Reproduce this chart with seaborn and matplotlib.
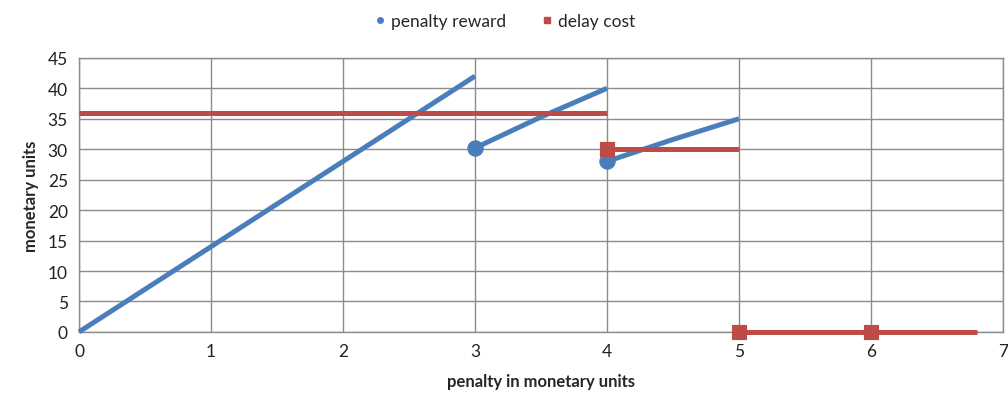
import matplotlib
matplotlib.use("Agg")
import matplotlib.pyplot as plt
import pandas as pd
import seaborn as sns
from matplotlib.lines import Line2D

# penalty reward, drawn as three separate pieces
reward_x = [[0, 3], [3, 3.5, 4], [4, 4.5, 5]]
reward_y = [[0, 42], [30.2, 35.3, 40], [28, 31.6, 35]]
reward_mark_x = [3, 4]
reward_mark_y = [30.2, 28]

# delay cost, three flat pieces
delay_x = [[0, 4], [4, 5], [5, 6.8]]
delay_y = [[36, 36], [30, 30], [0, 0]]
delay_mark_x = [4, 5, 6]
delay_mark_y = [30, 0, 0]

blue = '#4a7ebb'
red = '#be4b48'

rows = []
for i, (xs, ys) in enumerate(zip(reward_x, reward_y)):
    for x, y in zip(xs, ys):
        rows.append({"x": x, "y": y, "series": "penalty reward", "seg": "r%d" % i})
for i, (xs, ys) in enumerate(zip(delay_x, delay_y)):
    for x, y in zip(xs, ys):
        rows.append({"x": x, "y": y, "series": "delay cost", "seg": "d%d" % i})
df = pd.DataFrame(rows)

sns.set_theme(style="white")
plt.rcParams['font.family'] = ['Lato', 'DejaVu Sans']

fig = plt.figure(figsize=(10.08, 4.06), dpi=100)
ax = fig.add_axes([0.0784, 0.18, 0.9166, 0.675])

ax.grid(True, color='#8c8c8c', linewidth=1.0)
ax.set_axisbelow(True)

sns.lineplot(data=df, x="x", y="y", hue="series", units="seg", estimator=None,
             palette={"penalty reward": blue, "delay cost": red},
             linewidth=3.6, legend=False, ax=ax, solid_capstyle='butt',
             clip_on=False, zorder=3)

sns.scatterplot(x=reward_mark_x, y=reward_mark_y, color=blue, marker='o', s=120,
                edgecolor=blue, zorder=5, ax=ax, clip_on=False)
sns.scatterplot(x=delay_mark_x, y=delay_mark_y, color=red, marker='s', s=110,
                edgecolor=red, zorder=5, ax=ax, clip_on=False)

ax.set_xlim(0, 7)
ax.set_ylim(0, 45)
ax.set_xticks(range(0, 8))
ax.set_yticks(range(0, 50, 5))
ax.tick_params(axis='both', labelsize=12.5, length=0, pad=8, colors='#222222')
for s in ax.spines.values():
    s.set_color('#8c8c8c')
    s.set_linewidth(1.0)
    s.set_zorder(1)

ax.set_xlabel("penalty in monetary units", fontsize=12, fontweight='bold', labelpad=10)
ax.set_ylabel("monetary units", fontsize=12, fontweight='bold', labelpad=6)

handles = [Line2D([], [], color=blue, marker='o', linestyle='None', markersize=4),
           Line2D([], [], color=red, marker='s', linestyle='None', markersize=4)]
fig.legend(handles, ["penalty reward", "delay cost"], loc='upper center',
           bbox_to_anchor=(0.5, 1.005), ncol=2, frameon=False, fontsize=12.5,
           handletextpad=0.2, columnspacing=2.0, handlelength=0.8)

plt.savefig('out.png', dpi=100)
plt.close()
